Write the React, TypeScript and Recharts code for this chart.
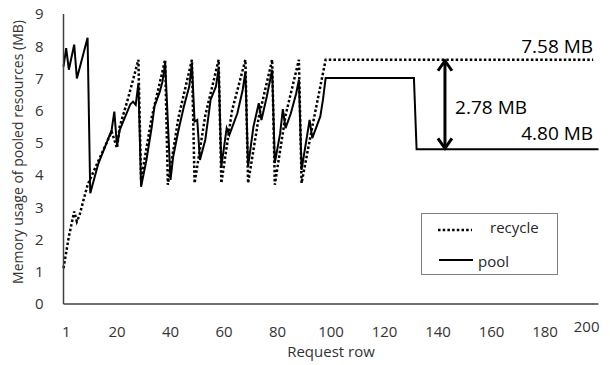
import {
  Legend,
  Line,
  LineChart,
  ReferenceDot,
  ReferenceLine,
  XAxis,
  YAxis,
} from "recharts";

const FONT = '"Open Sans", sans-serif';

// pool series: request row -> MB
const poolRows = [
  0, 1, 2, 4, 5, 9, 10, 13, 18, 19, 20, 21, 25, 26, 27, 28, 29, 31, 33, 34, 36,
  37, 38, 40, 41, 43, 45, 47, 48, 49, 50, 51, 53, 55, 57, 58, 59, 61, 62, 65,
  67, 68, 69, 71, 73, 74, 76, 78, 79, 81, 82, 83, 85, 87, 88, 89, 92, 93, 96,
  97, 98, 131, 132, 200,
];
const poolMB = [
  7.37, 7.94, 7.27, 8.05, 7.0, 8.26, 3.44, 4.35, 5.4, 5.97, 4.9, 5.4, 6.2, 6.28,
  6.18, 6.85, 3.64, 4.47, 5.5, 6.13, 6.59, 6.9, 7.48, 3.85, 4.57, 5.4, 6.13,
  6.75, 7.45, 5.66, 5.71, 4.47, 5.09, 6.34, 6.75, 7.32, 4.26, 5.46, 5.25, 5.92,
  6.65, 7.21, 4.26, 5.5, 6.23, 5.71, 6.44, 7.27, 4.37, 5.3, 6.05, 5.46, 5.92,
  6.54, 6.96, 4.16, 5.71, 5.15, 5.82, 6.34, 7.01, 7.01, 4.8, 4.8,
];

// recycle series: request row -> MB
const recycleRows = [
  0, 2, 4, 5, 6, 9, 18, 20, 21, 24, 28, 29, 33, 38, 39, 43, 48, 49, 53, 58, 59,
  63, 68, 69, 73, 78, 79, 83, 88, 89, 93, 98, 198,
];
const recycleMB = [
  1.11, 2.09, 2.87, 2.56, 2.76, 3.7, 5.35, 4.84, 5.5, 6.34, 7.58, 3.85, 5.8,
  7.58, 3.7, 5.8, 7.58, 3.75, 5.85, 7.58, 3.75, 6.0, 7.58, 3.75, 5.8, 7.58, 3.7,
  5.85, 7.58, 3.75, 5.5, 7.58, 7.58,
];

const xTicks = [1, 20, 40, 60, 80, 100, 120, 140, 160, 180, 200];
const yTicks = [0, 1, 2, 3, 4, 5, 6, 7, 8, 9];

const recycleLevel = 7.58;
const poolLevel = 4.8;
const gap = 2.78;
const arrowRow = 142.6;

const poolData = poolRows.map((x, i) => ({ x, y: poolMB[i] }));
const recycleData = recycleRows.map((x, i) => ({ x, y: recycleMB[i] }));

function XTick({ x, y, payload }: any) {
  // the last label sits a little higher and is pulled inside the plot
  const last = payload.value === 200;
  return (
    <text
      x={last ? x + 1 : x}
      y={y + 33 - (last ? 5 : 0)}
      textAnchor={last ? "end" : "middle"}
      fontSize={15}
      fill="#333"
      fontFamily={FONT}
    >
      {payload.value}
    </text>
  );
}

function DoubleArrow({ x1, y1, x2, y2 }: any) {
  const top = Math.min(y1, y2);
  const bottom = Math.max(y1, y2);
  return (
    <g stroke="#000" strokeWidth={3} fill="none">
      <line x1={x1} y1={top + 2} x2={x2} y2={bottom - 2} />
      <polyline points={`${x1 - 7},${top + 11} ${x1},${top + 1} ${x1 + 7},${top + 11}`} />
      <polyline
        points={`${x1 - 7},${bottom - 11} ${x1},${bottom - 1} ${x1 + 7},${bottom - 11}`}
      />
    </g>
  );
}

function note(text: string, anchor: "start" | "end") {
  return ({ cx, cy }: any) => (
    <text
      x={cx}
      y={cy}
      textAnchor={anchor}
      dominantBaseline="central"
      fontSize={19}
      fill="#000"
      fontFamily={FONT}
    >
      {text}
    </text>
  );
}

function LegendBox() {
  return (
    <svg width={137} height={62} style={{ display: "block" }}>
      <rect x={0.5} y={0.5} width={136} height={61} fill="#fff" stroke="#808080" />
      <line
        x1={17}
        y1={17}
        x2={51}
        y2={17}
        stroke="#000"
        strokeWidth={2.5}
        strokeDasharray="2.5 2.2"
      />
      <text x={69} y={14} dominantBaseline="central" fontSize={15} fill="#262626" fontFamily={FONT}>
        recycle
      </text>
      <line x1={18} y1={47} x2={52} y2={47} stroke="#000" strokeWidth={2} />
      <text x={57} y={48} dominantBaseline="central" fontSize={15} fill="#262626" fontFamily={FONT}>
        pool
      </text>
    </svg>
  );
}

export default function App() {
  return (
    <div style={{ position: "absolute", left: 0, top: 0 }}>
      <LineChart
        width={610}
        height={365}
        margin={{ top: 14, right: 11.5, bottom: 31, left: 8 }}
        style={{ fontFamily: FONT }}
      >
        <XAxis
          type="number"
          dataKey="x"
          domain={[0, 200]}
          ticks={xTicks}
          interval={0}
          height={30}
          tickSize={0}
          tickMargin={0}
          tickLine={false}
          axisLine={{ stroke: "#404040", strokeWidth: 1.5 }}
          tick={<XTick />}
          label={{
            content: ({ viewBox }: any) => (
              <text
                x={viewBox.x + viewBox.width / 2}
                y={viewBox.y + viewBox.height + 23}
                textAnchor="middle"
                fontSize={15}
                fill="#333"
                fontFamily={FONT}
              >
                Request row
              </text>
            ),
          }}
        />
        <YAxis
          type="number"
          dataKey="y"
          domain={[0, 9]}
          ticks={yTicks}
          interval={0}
          width={55.5}
          tickSize={0}
          tickMargin={20}
          tickLine={false}
          axisLine={{ stroke: "#404040", strokeWidth: 1.5 }}
          tick={{ fontSize: 15, fill: "#333", fontFamily: FONT }}
          label={{
            content: ({ viewBox }: any) => {
              const cx = viewBox.x + 9;
              const cy = viewBox.y + viewBox.height / 2 - 7;
              return (
                <text
                  x={cx}
                  y={cy}
                  transform={`rotate(-90, ${cx}, ${cy})`}
                  textAnchor="middle"
                  dominantBaseline="central"
                  fontSize={14}
                  fill="#333"
                  fontFamily={FONT}
                >
                  Memory usage of pooled resources (MB)
                </text>
              );
            },
          }}
        />
        <Line
          data={recycleData}
          dataKey="y"
          name="recycle"
          type="linear"
          stroke="#000"
          strokeWidth={2.5}
          strokeDasharray="2.5 2.2"
          dot={false}
          isAnimationActive={false}
        />
        <Line
          data={poolData}
          dataKey="y"
          name="pool"
          type="linear"
          stroke="#000"
          strokeWidth={2}
          dot={false}
          isAnimationActive={false}
        />
        <ReferenceLine
          segment={[
            { x: arrowRow, y: recycleLevel },
            { x: arrowRow, y: poolLevel },
          ]}
          shape={(p: any) => <DoubleArrow {...p} />}
        />
        <ReferenceDot x={198} y={8.01} r={0} shape={note(`${recycleLevel.toFixed(2)} MB`, "end")} />
        <ReferenceDot x={198} y={5.31} r={0} shape={note(`${poolLevel.toFixed(2)} MB`, "end")} />
        <ReferenceDot x={146.4} y={6.12} r={0} shape={note(`${gap.toFixed(2)} MB`, "start")} />
        <Legend
          layout="vertical"
          align="center"
          verticalAlign="middle"
          wrapperStyle={{ left: 421, top: 213, width: 137, height: 62 }}
          content={() => <LegendBox />}
        />
      </LineChart>
    </div>
  );
}
